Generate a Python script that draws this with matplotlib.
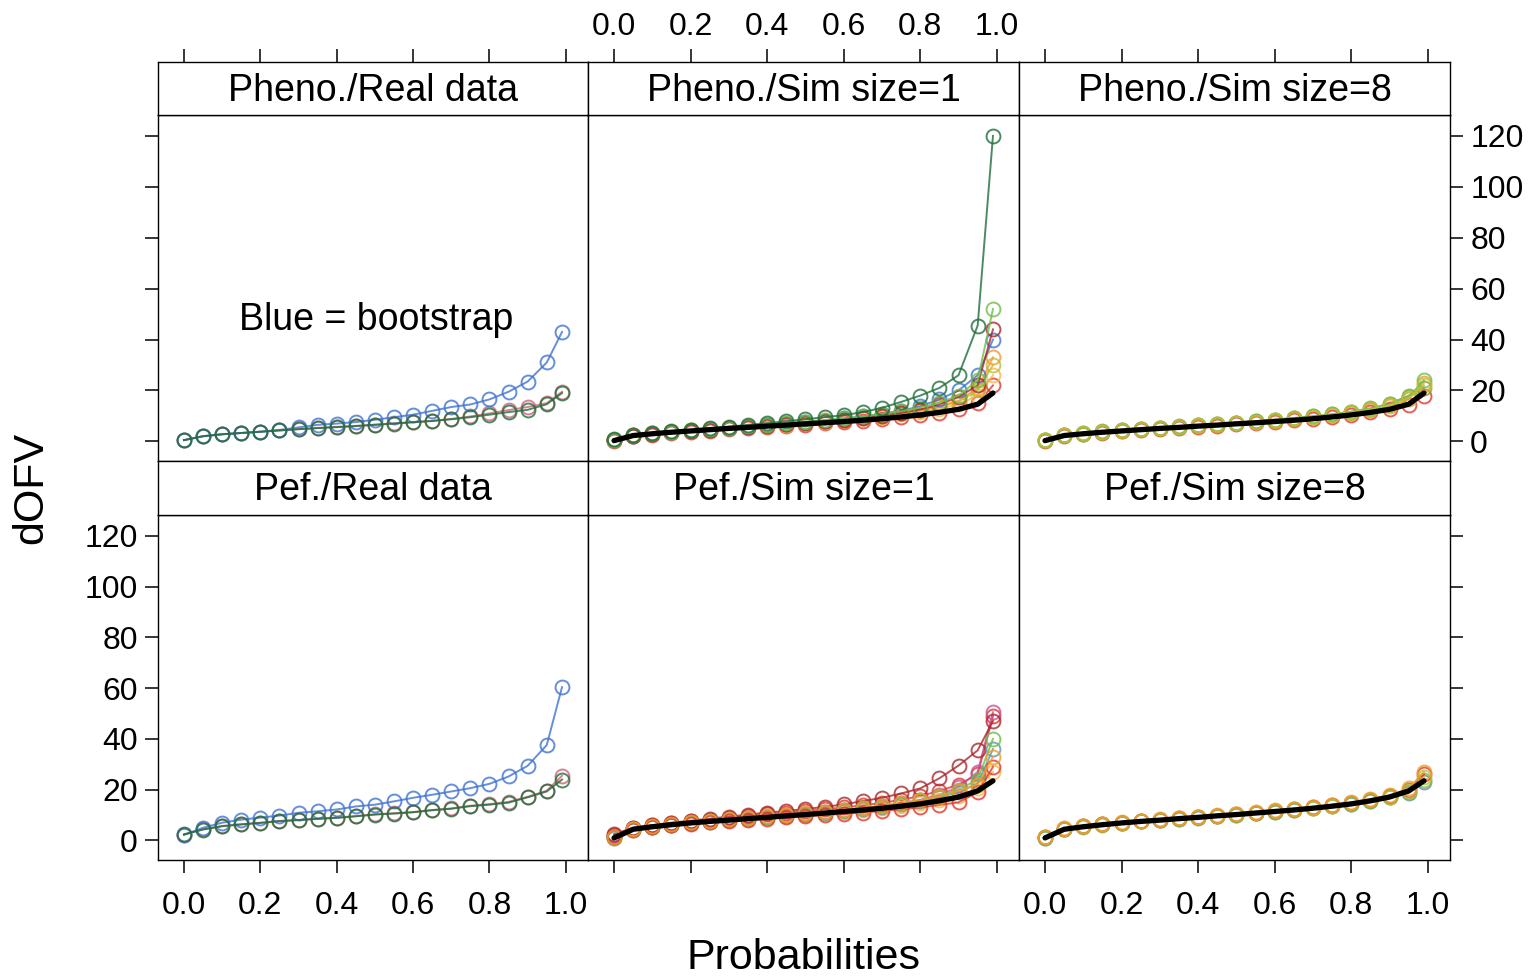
import matplotlib
matplotlib.use('Agg')
import matplotlib.pyplot as plt

plt.rcParams['font.family'] = ['Liberation Sans', 'DejaVu Sans']

# probabilities at which dOFV quantiles are shown
prob = [0, 0.05, 0.1, 0.15, 0.2, 0.25, 0.3, 0.35, 0.4, 0.45, 0.5,
        0.55, 0.6, 0.65, 0.7, 0.75, 0.8, 0.85, 0.9, 0.95, 0.99]

# theoretical reference (black line)
ref_pheno = [0.3, 2.3, 3.0, 3.6, 4.1, 4.6, 5.1, 5.5, 6.0, 6.4, 6.9,
             7.3, 7.8, 8.3, 8.9, 9.6, 10.4, 11.4, 12.6, 14.6, 19.0]
ref_pef = [1.0, 4.4, 5.4, 6.2, 6.9, 7.5, 8.0, 8.6, 9.1, 9.7, 10.2,
           10.8, 11.4, 12.0, 12.7, 13.5, 14.4, 15.6, 17.1, 19.5, 23.5]

# Pheno./Real data
pr_blue = [0.5, 2.1, 2.8, 3.3, 3.8, 4.5, 5.5, 6.5, 7.0, 7.6, 8.5,
           9.5, 10.5, 12.0, 13.5, 14.5, 16.5, 19.5, 23.5, 31.0, 43.0]
pr_red = [0.5, 2.0, 2.8, 3.3, 3.8, 4.3, 4.8, 5.3, 5.7, 6.1, 6.6,
          7.1, 7.6, 8.1, 8.8, 9.8, 11.0, 12.3, 13.5, 15.0, 19.5]
pr_green = [0.5, 2.0, 2.8, 3.3, 3.8, 4.3, 4.8, 5.2, 5.6, 6.0, 6.5,
            7.0, 7.5, 8.0, 8.7, 9.5, 10.5, 11.5, 12.4, 14.6, 19.0]

# Pef./Real data
fr_blue = [2.2, 5.0, 7.0, 8.2, 9.0, 9.8, 10.9, 11.5, 12.2, 13.4, 14.1,
           15.4, 16.8, 18.0, 19.3, 20.6, 22.3, 25.2, 29.4, 37.6, 60.4]
fr_red = [2.3, 4.4, 5.7, 6.4, 7.0, 7.7, 8.1, 8.6, 9.0, 9.6, 10.3,
          10.7, 11.2, 12.0, 12.6, 13.7, 14.3, 15.2, 17.2, 19.6, 25.5]
fr_green = [2.4, 4.3, 5.6, 6.3, 6.9, 7.6, 8.0, 8.5, 8.9, 9.5, 10.2,
            10.6, 11.1, 11.9, 12.5, 13.5, 14.1, 14.9, 17.0, 19.3, 24.0]

# Pheno./Sim size=1
ps1_dgreen = [0.8, 2.6, 3.3, 3.9, 4.5, 5.1, 5.8, 6.5, 7.2, 7.9, 8.7,
              9.5, 10.3, 11.5, 13.2, 15.5, 18.0, 21.0, 26.0, 45.5, 120.0]
ps1_lgreen = [0.6, 2.5, 3.2, 3.8, 4.3, 4.9, 5.4, 6.0, 6.6, 7.2, 7.8,
              8.4, 9.1, 9.9, 10.8, 11.9, 13.3, 15.2, 18.0, 24.0, 52.0]
ps1_dred = [0.5, 2.3, 3.0, 3.6, 4.1, 4.6, 5.1, 5.6, 6.2, 6.7, 7.3,
            7.9, 8.5, 9.2, 10.1, 11.2, 12.5, 14.5, 17.5, 22.0, 44.0]
ps1_blue = [0.4, 2.2, 2.9, 3.5, 4.0, 4.6, 5.1, 5.7, 6.3, 6.9, 7.5,
            8.2, 9.0, 9.8, 10.8, 12.0, 13.8, 16.5, 20.0, 26.0, 40.0]
ps1_orange = [0.5, 2.4, 3.1, 3.7, 4.2, 4.7, 5.2, 5.7, 6.2, 6.7, 7.3,
              7.9, 8.5, 9.2, 10.0, 11.0, 12.2, 13.8, 16.0, 21.0, 33.0]
ps1_olive = [0.6, 2.5, 3.2, 3.8, 4.3, 4.8, 5.3, 5.8, 6.4, 6.9, 7.5,
             8.1, 8.7, 9.4, 10.2, 11.1, 12.3, 13.6, 15.5, 20.0, 30.0]
ps1_lorange = [0.4, 2.3, 3.0, 3.6, 4.1, 4.6, 5.1, 5.6, 6.1, 6.6, 7.1,
               7.7, 8.3, 9.0, 9.7, 10.6, 11.6, 12.8, 14.5, 18.0, 26.0]
ps1_red = [0.3, 2.0, 2.6, 3.2, 3.7, 4.2, 4.7, 5.2, 5.6, 6.1, 6.6,
           7.1, 7.6, 8.2, 8.8, 9.5, 10.3, 11.3, 12.8, 15.0, 22.0]

# Pef./Sim size=1
fs1_magenta = [1.6, 4.5, 5.4, 6.2, 6.9, 7.5, 8.1, 8.7, 9.3, 9.9, 10.5,
               11.2, 11.9, 12.7, 13.6, 14.7, 16.0, 18.0, 21.0, 27.0, 50.5]
fs1_red2 = [2.0, 4.8, 5.9, 6.8, 7.5, 8.2, 8.9, 9.6, 10.3, 11.0, 11.6,
            12.3, 13.0, 13.8, 14.8, 16.0, 17.5, 19.5, 22.0, 26.0, 49.0]
fs1_dred = [2.5, 5.0, 6.0, 7.0, 7.8, 8.6, 9.4, 10.2, 11.0, 11.6, 12.4,
            13.2, 14.2, 15.5, 16.8, 18.5, 20.5, 24.5, 29.5, 35.5, 47.0]
fs1_lgreen = [1.2, 4.4, 5.4, 6.2, 6.9, 7.5, 8.1, 8.7, 9.3, 9.9, 10.5,
              11.1, 11.8, 12.6, 13.5, 14.5, 15.8, 17.5, 20.0, 24.0, 40.0]
fs1_blue = [1.0, 4.3, 5.3, 6.1, 6.8, 7.4, 8.0, 8.6, 9.2, 9.8, 10.4,
            11.0, 11.7, 12.4, 13.2, 14.2, 15.4, 17.0, 19.0, 22.5, 36.0]
fs1_orange = [1.4, 4.6, 5.6, 6.4, 7.1, 7.7, 8.3, 8.9, 9.5, 10.1, 10.7,
              11.3, 12.0, 12.8, 13.6, 14.6, 15.8, 17.3, 19.5, 22.0, 33.0]
fs1_yellow = [1.1, 4.4, 5.4, 6.2, 6.8, 7.4, 8.0, 8.5, 9.1, 9.7, 10.2,
              10.8, 11.4, 12.1, 12.8, 13.6, 14.6, 15.8, 17.5, 20.5, 27.0]
fs1_red = [1.3, 4.2, 5.2, 5.9, 6.5, 7.1, 7.6, 8.1, 8.6, 9.1, 9.5,
           10.0, 10.5, 11.0, 11.6, 12.3, 13.0, 14.0, 15.0, 19.0, 29.0]

# Pheno./Sim size=8
ps8_orange = [0.4, 2.4, 3.1, 3.6, 4.2, 4.7, 5.2, 5.6, 6.1, 6.6, 7.1,
              7.6, 8.2, 8.8, 9.5, 10.3, 11.2, 12.3, 13.8, 16.5, 23.0]
ps8_ygreen = [0.6, 2.5, 3.2, 3.8, 4.3, 4.8, 5.3, 5.8, 6.3, 6.8, 7.3,
              7.8, 8.4, 9.0, 9.7, 10.5, 11.5, 12.6, 14.2, 17.0, 22.0]
ps8_red = [0.3, 2.2, 2.9, 3.4, 3.9, 4.4, 4.9, 5.3, 5.8, 6.2, 6.7,
           7.2, 7.7, 8.3, 8.9, 9.6, 10.4, 11.4, 12.6, 14.2, 18.0]
ps8_green = [0.5, 2.4, 3.1, 3.7, 4.3, 4.8, 5.3, 5.8, 6.3, 6.8, 7.3,
             7.9, 8.5, 9.1, 9.8, 10.6, 11.6, 12.8, 14.5, 17.5, 24.0]
ps8_olive = [0.7, 2.6, 3.3, 3.9, 4.4, 4.9, 5.4, 5.9, 6.4, 6.9, 7.4,
             8.0, 8.6, 9.2, 9.9, 10.7, 11.7, 13.0, 14.8, 18.0, 21.0]

# Pef./Sim size=8
fs8_orange = [1.5, 4.8, 5.7, 6.5, 7.2, 7.8, 8.3, 8.9, 9.4, 10.0, 10.6,
              11.2, 11.8, 12.5, 13.2, 14.0, 15.0, 16.3, 17.8, 20.5, 27.0]
fs8_ygreen = [1.2, 4.5, 5.5, 6.3, 7.0, 7.6, 8.1, 8.7, 9.2, 9.8, 10.3,
              10.9, 11.5, 12.2, 12.9, 13.7, 14.6, 15.8, 17.2, 19.5, 25.0]
fs8_red = [1.4, 4.6, 5.6, 6.4, 7.0, 7.6, 8.2, 8.7, 9.3, 9.8, 10.4,
           11.0, 11.6, 12.3, 13.0, 13.8, 14.8, 16.0, 17.6, 20.0, 26.0]
fs8_green = [1.0, 4.4, 5.4, 6.2, 6.9, 7.5, 8.0, 8.6, 9.1, 9.7, 10.2,
             10.8, 11.4, 12.0, 12.7, 13.5, 14.4, 15.5, 17.0, 19.0, 24.0]
fs8_blue = [1.1, 4.5, 5.5, 6.3, 6.9, 7.5, 8.1, 8.6, 9.0, 9.6, 10.2,
            10.8, 11.4, 12.1, 12.8, 13.6, 14.5, 15.6, 17.1, 18.8, 23.0]

BLUE = '#3f72d2'
DGREEN = '#1f6e3a'
LGREEN = '#6cbf4a'
RED = '#e2362c'
DRED = '#a8282c'
ORANGE = '#f09a2c'
LORANGE = '#f5b84a'
YGREEN = '#b8c23a'
OLIVE = '#8a9a3a'
MAGENTA = '#c8509c'
PINK = '#d0607a'

panels = [
    ("Pheno./Real data", 0, 0, [(pr_red, PINK), (pr_blue, BLUE), (pr_green, DGREEN)], None),
    ("Pheno./Sim size=1", 0, 1, [(ps1_red, RED), (ps1_lorange, LORANGE), (ps1_olive, YGREEN),
                                 (ps1_orange, ORANGE), (ps1_blue, BLUE), (ps1_dred, DRED),
                                 (ps1_lgreen, LGREEN), (ps1_dgreen, DGREEN)], ref_pheno),
    ("Pheno./Sim size=8", 0, 2, [(ps8_red, RED), (ps8_olive, OLIVE), (ps8_orange, ORANGE),
                                 (ps8_green, LGREEN), (ps8_ygreen, YGREEN)], ref_pheno),
    ("Pef./Real data", 1, 0, [(fr_red, PINK), (fr_blue, BLUE), (fr_green, DGREEN)], None),
    ("Pef./Sim size=1", 1, 1, [(fs1_red2, RED), (fs1_magenta, MAGENTA), (fs1_dred, DRED),
                               (fs1_yellow, LORANGE), (fs1_blue, '#5a9ab0'), (fs1_lgreen, LGREEN),
                               (fs1_red, RED), (fs1_orange, ORANGE)], ref_pef),
    ("Pef./Sim size=8", 1, 2, [(fs8_blue, '#6a8aa0'), (fs8_green, LGREEN), (fs8_red, RED),
                               (fs8_ygreen, YGREEN), (fs8_orange, ORANGE)], ref_pef),
]

W, H = 1540, 980
fig = plt.figure(figsize=(W / 100, H / 100), dpi=100)

col_x = [158, 588, 1019, 1450]
row_y = [(62, 115, 461), (461, 515, 860)]  # strip top, plot top, plot bottom
XLIM = (-0.068, 1.058)
YLIM = (-7.7, 128.2)
xt = [0, 0.2, 0.4, 0.6, 0.8, 1.0]
xtl = ['0.0', '0.2', '0.4', '0.6', '0.8', '1.0']
yt = [0, 20, 40, 60, 80, 100, 120]
TICK = dict(direction='out', length=9.5, width=1.1, labelsize=23, colors='black', pad=5)


def box(x0, x1, y0, y1):
    return [x0 / W, 1 - y1 / H, (x1 - x0) / W, (y1 - y0) / H]


for title, r, c, series, ref in panels:
    s_top, p_top, p_bot = row_y[r]
    ax = fig.add_axes(box(col_x[c], col_x[c + 1], p_top, p_bot))
    st = fig.add_axes(box(col_x[c], col_x[c + 1], s_top, p_top))

    for vals, col in series:
        ax.plot(prob, vals, color=col, lw=1.4, marker='o', ms=10, mfc='none',
                mec=col, mew=1.4, alpha=0.8)
    if ref is not None:
        ax.plot(prob, ref, color='black', lw=3.8, solid_capstyle='round', zorder=5)

    ax.set_xlim(XLIM)
    ax.set_ylim(YLIM)
    st.set_xlim(XLIM)
    st.set_ylim(0, 1)
    st.text(0.5, 0.46, title, transform=st.transAxes, ha='center', va='center', fontsize=27)
    for a in (ax, st):
        for sp in a.spines.values():
            sp.set_linewidth(1.0)

    st.set_yticks([])
    st.tick_params(axis='x', **TICK)
    st.xaxis.set_ticks_position('top')
    st.set_xticks(xt)
    if r == 0 and c == 1:
        st.set_xticklabels(xtl)
    else:
        st.set_xticklabels([])
    if r == 1:
        st.tick_params(axis='x', length=0)

    ax.tick_params(axis='both', **TICK)
    ax.set_xticks(xt)
    ax.set_yticks(yt)
    if r == 1:
        ax.xaxis.set_ticks_position('bottom')
        ax.tick_params(axis='x', pad=13)
        ax.set_xticklabels(xtl if c != 1 else [])
    else:
        ax.tick_params(axis='x', length=0, labelbottom=False)
    if c == 0:
        ax.yaxis.set_ticks_position('left')
        ax.set_yticklabels([str(v) for v in yt] if r == 1 else [])
    elif c == 2:
        ax.yaxis.set_ticks_position('right')
        ax.set_yticklabels([str(v) for v in yt] if r == 0 else [])
    else:
        ax.tick_params(axis='y', length=0, labelleft=False)

    if title == "Pheno./Real data":
        ax.text(0.503, 47.5, "Blue = bootstrap", ha='center', va='center', fontsize=27)

fig.text(31 / W, 1 - 488 / H, "dOFV", rotation=90, ha='center', va='center', fontsize=31)
fig.text(804 / W, 1 - 958 / H, "Probabilities", ha='center', va='center', fontsize=31)

fig.savefig('out.png', dpi=100, facecolor='white')
